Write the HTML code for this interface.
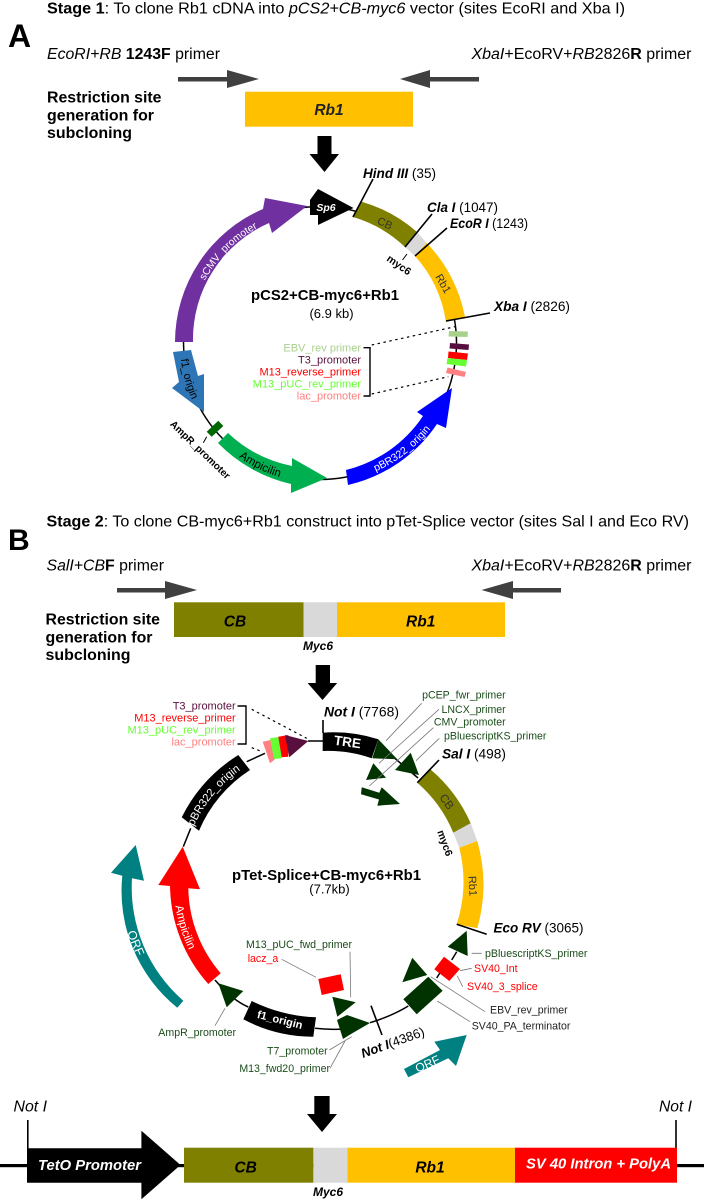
<!DOCTYPE html>
<html><head><meta charset="utf-8"><style>
html,body{margin:0;padding:0;background:#fff}
svg{display:block}
text{font-family:"Liberation Sans",sans-serif}
.bi{font-weight:bold;font-style:italic}
.b{font-weight:bold}
.i{font-style:italic}
.lb{font-size:10.6px}
.lc{font-size:11px}
.g{fill:#1a4d1a}
.r{fill:#f00}
.ld{stroke:#777;stroke-width:.8;fill:none}
.rg{stroke:#000;stroke-width:1.5;fill:none}
.tk{stroke:#000;stroke-width:1.6;fill:none}
</style></head><body>
<svg width="704" height="1200" viewBox="0 0 704 1200" xmlns="http://www.w3.org/2000/svg">
<defs>
<path id="a1" d="M189,343 A131,131 0 0 1 320,212"/>
<path id="a2" d="M320,483 A140,140 0 0 0 460,343"/>
<path id="a3" d="M180,343 A140,140 0 0 0 320,483"/>
<path id="b1" d="M181,885 A141,141 0 0 1 322,744"/>
<path id="b2" d="M174,885 A148,148 0 0 0 322,1033"/>
</defs>
<rect width="704" height="1200" fill="#fff"/>

<!-- Header A -->
<text x="47" y="13.5" font-size="16" textLength="578" lengthAdjust="spacingAndGlyphs"><tspan class="b">Stage 1</tspan>: To clone Rb1 cDNA into <tspan class="i">pCS2+CB-myc6</tspan> vector (sites EcoRI and Xba I)</text>
<text x="8" y="47" font-size="32" class="b">A</text>
<text x="47" y="59" font-size="15.5" textLength="173" lengthAdjust="spacingAndGlyphs"><tspan class="i">EcoRI+RB</tspan> <tspan class="b">1243F</tspan> primer</text>
<text x="471.5" y="59" font-size="15.5" textLength="220" lengthAdjust="spacingAndGlyphs"><tspan class="i">XbaI</tspan>+EcoRV+<tspan class="i">RB</tspan>2826<tspan class="b">R</tspan> primer</text>
<polygon points="178,77 227,77 227,70 259,79 227,88 227,81.5 178,81.5" fill="#404040"/>
<polygon points="479,77 430,77 430,70 400,79 430,88 430,81.5 479,81.5" fill="#404040"/>
<rect x="245" y="91.7" width="168" height="35" fill="#ffc000"/>
<text x="329" y="115" font-size="15.5" class="bi" text-anchor="middle" fill="#222">Rb1</text>
<g font-size="16" class="b">
<text x="47" y="102.5" textLength="114.5" lengthAdjust="spacingAndGlyphs">Restriction site</text>
<text x="47" y="120.5" textLength="107" lengthAdjust="spacingAndGlyphs">generation for</text>
<text x="47" y="138" textLength="85" lengthAdjust="spacingAndGlyphs">subcloning</text>
</g>
<polygon points="317.5,136 331.5,136 331.5,154 339,154 324.5,172 309.5,154 317.5,154"/>

<!-- Plasmid A -->
<circle cx="320" cy="343" r="136.5" class="rg"/>
<path d="M175,342 A145,145 0 0 1 263,209 L265,198 L307,206 L272,233 L269,223 A127,127 0 0 0 193,342 Z" fill="#7030a0"/>
<text font-size="10.4" fill="#fff"><textPath href="#a1" startOffset="50%" text-anchor="middle">sCMV_promoter</textPath></text>
<polygon points="310,200 318,189 353.5,208 318,225 318,215 310,215"/>
<text x="326" y="211" font-size="10.5" class="bi" fill="#fff" text-anchor="middle">Sp6</text>
<path d="M361.7,201.7 A146,146 0 0 1 416.7,231.7 L405,247 A128,128 0 0 0 353,217 Z" fill="#808000"/>
<text x="385" y="227" font-size="11" text-anchor="middle" fill="#333" transform="rotate(25 385 223)">CB</text>
<polygon points="416.7,231.7 426.7,243 415,256 405,247" fill="#d9d9d9"/>
<path d="M426.7,243 A145,145 0 0 1 465,317 L446,322 A127,127 0 0 0 415,256 Z" fill="#ffc000"/>
<text x="443.5" y="287.5" font-size="11" text-anchor="middle" fill="#333" transform="rotate(60 443.5 283.5)">Rb1</text>
<path d="M353,217 L373,179 M405,247 L432,214 M415,256 L447,228 M446,321 L490,313" class="tk"/>
<path d="M407,254 L402.5,260" stroke="#000" stroke-width="1"/>
<text x="399" y="268.5" font-size="10.5" class="b" text-anchor="middle" transform="rotate(35 399 265)">myc6</text>
<text x="363" y="178" font-size="13.5" textLength="73" lengthAdjust="spacingAndGlyphs"><tspan class="bi">Hind III</tspan> (35)</text>
<text x="427" y="212" font-size="13.5" textLength="71" lengthAdjust="spacingAndGlyphs"><tspan class="bi">Cla I</tspan> (1047)</text>
<text x="450" y="228" font-size="13.5" textLength="78" lengthAdjust="spacingAndGlyphs"><tspan class="bi">EcoR I</tspan> (1243)</text>
<text x="494" y="311" font-size="13.5" textLength="76" lengthAdjust="spacingAndGlyphs"><tspan class="bi">Xba I</tspan> (2826)</text>
<polygon points="449,331 468,331.5 467.5,337 448.5,336.5" fill="#a9d18e"/>
<polygon points="450,343 469,344.5 468.5,350 449.5,348.5" fill="#580f3d"/>
<polygon points="448.5,351.5 468,353.5 467,360 448,358" fill="#f00"/>
<polygon points="447.5,358 467,360 466,366.5 446.5,364" fill="#66ff33"/>
<polygon points="447.5,367.5 466,372 464.5,377 446,373" fill="#ff8080"/>
<path d="M371.7,345 L455,326.7 M371.7,394 L448.3,376.7" stroke="#000" stroke-width="1.2" stroke-dasharray="2.5 3.5" fill="none"/>
<path d="M363.5,347.7 H370 V396 H363.5" stroke="#000" stroke-width="1.4" fill="none"/>
<g class="lc" text-anchor="end">
<text x="361" y="351.7" fill="#a9d18e">EBV_rev primer</text>
<text x="361" y="363.7" fill="#580f3d">T3_promoter</text>
<text x="361" y="375.7" fill="#f00">M13_reverse_primer</text>
<text x="361" y="387.7" fill="#66ff33">M13_pUC_rev_primer</text>
<text x="361" y="399.7" fill="#ff8080">lac_promoter</text>
</g>
<text x="325" y="300" font-size="14.8" class="b" text-anchor="middle" textLength="148" lengthAdjust="spacingAndGlyphs">pCS2+CB-myc6+Rb1</text>
<text x="331.5" y="318" font-size="13" text-anchor="middle">(6.9 kb)</text>
<polygon points="173,352 191,350 198,376 204,374 204,412 172,388 179,382" fill="#2e75b6"/>
<text font-size="11"><textPath href="#a3" startOffset="17%" text-anchor="middle">f1_origin</textPath></text>
<polygon points="206.7,431.7 218.3,420.7 223.3,426 211.7,436.7" fill="#006600"/>
<path d="M206.7,436.7 L203.3,442.7" stroke="#000" stroke-width="1"/>
<text x="200" y="453" font-size="10" class="b" text-anchor="middle" transform="rotate(44 200 450)">AmpR_promoter</text>
<path d="M218,443 L228,433 A130,130 0 0 0 292,466 L292,458 L327,478 L291,493 L291,484 A148,148 0 0 1 218,443 Z" fill="#00b050"/>
<text font-size="11.4"><textPath href="#a3" startOffset="71%" text-anchor="middle">Ampicilin</textPath></text>
<path d="M346,470 A130,130 0 0 0 423,416 L417,412 L452,388 L446,428 L437,424 A147,147 0 0 1 348,485 Z" fill="#00f"/>
<text font-size="10.6" fill="#fff"><textPath href="#a2" startOffset="42%" text-anchor="middle">pBR322_origin</textPath></text>

<!-- Header B -->
<text x="46.5" y="526.5" font-size="16" textLength="642.5" lengthAdjust="spacingAndGlyphs"><tspan class="b">Stage 2</tspan>: To clone CB-myc6+Rb1 construct into pTet-Splice vector (sites Sal I and Eco RV)</text>
<text x="8" y="550" font-size="30" class="b">B</text>
<text x="46.5" y="570.5" font-size="15.5" textLength="117.5" lengthAdjust="spacingAndGlyphs"><tspan class="i">SalI+CB</tspan><tspan class="b">F</tspan> primer</text>
<text x="471.5" y="570.5" font-size="15.5" textLength="220" lengthAdjust="spacingAndGlyphs"><tspan class="i">XbaI</tspan>+EcoRV+<tspan class="i">RB</tspan>2826<tspan class="b">R</tspan> primer</text>
<polygon points="117,588 165,588 165,581 197,590 165,599 165,592.5 117,592.5" fill="#404040"/>
<polygon points="561,588 513,588 513,581 481.5,590 513,599 513,592.5 561,592.5" fill="#404040"/>
<rect x="174" y="602.3" width="129.5" height="34.7" fill="#808000"/>
<rect x="303.5" y="602.3" width="33.5" height="34.7" fill="#d9d9d9"/>
<rect x="337" y="602.3" width="168" height="34.7" fill="#ffc000"/>
<text x="235" y="626.5" font-size="15.5" class="bi" text-anchor="middle">CB</text>
<text x="420.7" y="626.5" font-size="15.5" class="bi" text-anchor="middle">Rb1</text>
<text x="318" y="650" font-size="12" class="bi" text-anchor="middle">Myc6</text>
<g font-size="16" class="b">
<text x="45.5" y="624.3" textLength="114.5" lengthAdjust="spacingAndGlyphs">Restriction site</text>
<text x="45.5" y="642.3" textLength="107" lengthAdjust="spacingAndGlyphs">generation for</text>
<text x="45.5" y="660" textLength="85" lengthAdjust="spacingAndGlyphs">subcloning</text>
</g>
<polygon points="315.7,665 330,665 330,683 337.2,683 322.5,700 307.6,683 315.7,683"/>

<!-- Plasmid B -->
<path d="M323,741 L308,741 M265,753.3 L246.7,761.7 M190.7,828.3 L183.3,846.7 M215,980 Q232,1000 248.3,1007 M315,1028.3 Q330,1030 345,1029 M370,1022.7 Q392,1016 408.3,1006 M436.7,978 L441.7,970 M451.7,960 L456.7,951.7 M385,750 L418,778" class="rg"/>
<path d="M323,720 V733" class="tk"/>
<path d="M322.7,732.7 A148,148 0 0 1 378.3,739.3 L371.7,758.3 A130,130 0 0 0 322.7,751 Z"/>
<text x="347.5" y="746.5" font-size="13.5" class="b" fill="#fff" text-anchor="middle" transform="rotate(8 347.5 742)">TRE</text>
<g fill="#003300">
<polygon points="378.3,739.3 397.3,759.3 372.3,758.3"/>
<polygon points="373.3,763.3 386,777.7 366,780"/>
<polygon points="361.7,787.3 379.3,792.7 381.7,787.3 400,804 377.3,805.7 379,799.5 361,794.3"/>
<polygon points="410.7,752.7 419,775 395,770"/>
<polygon points="466.7,930.7 467.7,956 447.7,946.7"/>
<polygon points="412.3,957.7 427.3,975 402.3,982.3"/>
<polygon points="428.3,976.7 442.7,990.7 416.7,1014.3 403.3,999.3"/>
<polygon points="337,1020 347,1015 370,1023 351,1034 343,1039"/>
<polygon points="332.3,996.7 355.7,1002.3 337.3,1016.7"/>
<polygon points="218.3,983.3 243.3,991 226.7,1007.3"/>
</g>
<path d="M430,769 A150,150 0 0 1 470.7,823.3 L453.3,832.7 A134,134 0 0 0 417.3,782.7 Z" fill="#808000"/>
<text x="446.7" y="805.5" font-size="11.5" text-anchor="middle" fill="#333" transform="rotate(55 446.7 801.7)">CB</text>
<polygon points="470.7,823.3 477.3,841 459.3,847.7 453.3,832.7" fill="#d9d9d9"/>
<path d="M477.3,841 A160,160 0 0 1 477.3,928.3 L456.7,924.3 A140,140 0 0 0 459.3,847.7 Z" fill="#ffc000"/>
<text x="473" y="890" font-size="11" text-anchor="middle" fill="#333" transform="rotate(87 473 886)">Rb1</text>
<text x="445" y="846.5" font-size="10.5" class="b" text-anchor="middle" transform="rotate(70 445 843)">myc6</text>
<path d="M417.3,782.7 L439,760 M456.7,924.3 L486.7,934.3 M371,1005.7 L382,1035" class="tk"/>
<path d="M238.3,755 L250,770 A135,135 0 0 0 199,830.7 L181.7,817.3 A155,155 0 0 1 238.3,755 Z"/>
<text font-size="11.2" fill="#fff"><textPath href="#b1" startOffset="44%" text-anchor="middle">pBR322_origin</textPath></text>
<polygon points="262.7,741.7 270.7,740 275,759.3 270,763.3" fill="#ff8080"/>
<polygon points="270,738.3 280,736.7 281.7,758.3 274,759" fill="#66ff33"/>
<polygon points="278.3,736.7 288.3,735 288.3,756.7 281.7,757.3" fill="#f00"/>
<polygon points="285,735 308.3,741 289.3,757.3" fill="#580f3d"/>
<path d="M251.7,709.3 L306.7,738.3 M251.7,747.7 L263,752" stroke="#000" stroke-width="1.2" stroke-dasharray="2.5 3.5" fill="none"/>
<path d="M237.5,706 H246 V744 H237.5" stroke="#000" stroke-width="1.4" fill="none"/>
<g class="lc" text-anchor="end">
<text x="235.7" y="709.7" fill="#580f3d">T3_promoter</text>
<text x="235.7" y="721.7" fill="#f00">M13_reverse_primer</text>
<text x="235.7" y="733.7" fill="#66ff33">M13_pUC_rev_primer</text>
<text x="235.7" y="745.7" fill="#ff8080">lac_promoter</text>
</g>
<text x="324" y="716.5" font-size="13.5" textLength="75" lengthAdjust="spacingAndGlyphs"><tspan class="bi">Not I</tspan>  (7768)</text>
<text x="442" y="758.5" font-size="13.5" textLength="64" lengthAdjust="spacingAndGlyphs"><tspan class="bi">Sal I</tspan> (498)</text>
<text x="493.5" y="932.5" font-size="13.5" textLength="90" lengthAdjust="spacingAndGlyphs"><tspan class="bi">Eco RV</tspan> (3065)</text>
<g class="lb g">
<text x="505.7" y="698.7" text-anchor="end">pCEP_fwr_primer</text>
<text x="505.7" y="713" text-anchor="end">LNCX_primer</text>
<text x="505.7" y="725.7" text-anchor="end">CMV_promoter</text>
<text x="444" y="739.7">pBluescriptKS_primer</text>
<text x="246" y="948">M13_pUC_fwd_primer</text>
<text x="158.3" y="1036.2">AmpR_promoter</text>
<text x="327.7" y="1054.5" text-anchor="end">T7_promoter</text>
<text x="330" y="1072" text-anchor="end">M13_fwd20_primer</text>
<text x="485" y="957">pBluescriptKS_primer</text>
</g>
<path d="M421.7,703.3 L386,740.7 M439,709.3 L379,763.3 M433.3,727.7 L369.3,786 M439.3,738.3 L416,760.7 M281.7,959.3 L316,977.3 M350,951.7 L350.7,997.3 M225,1008.3 L215,1025.7 M329.3,1050 L351.7,1036.7 M330,1068.3 L345,1041 M471.7,953.3 L481.7,953.3 M460,970.7 L471.7,968.3 M457.3,976 L462.7,986.7 M430.7,976.7 L485,1011.7 M437.3,1001 L470,1021.7" class="ld"/>
<text x="326.5" y="880" font-size="14.8" class="b" text-anchor="middle" textLength="189" lengthAdjust="spacingAndGlyphs">pTet-Splice+CB-myc6+Rb1</text>
<text x="329.5" y="893.5" font-size="13" text-anchor="middle">(7.7kb)</text>
<path d="M135.7,845 L144,880.7 L132,878.3 A150,150 0 0 0 183.3,1000.7 L177.3,1007.7 A150,150 0 0 1 122.3,875.7 L111,872.7 Z" fill="#008080"/>
<text x="136" y="947.5" font-size="12.4" fill="#fff" text-anchor="middle" transform="rotate(68 136 943)">ORF</text>
<path d="M182.7,846.7 L200,889.3 L188.3,888.3 A134,134 0 0 0 220.7,973.3 L208.3,984 A151,151 0 0 1 170,886 L158.3,885 Z" fill="#f00"/>
<text font-size="11.6" fill="#fff"><textPath href="#b2" startOffset="19%" text-anchor="middle">Ampicilin</textPath></text>
<path d="M251.7,1001 A160,160 0 0 0 316,1017.3 L313.3,1036.7 A150,150 0 0 1 243.3,1019.3 Z"/>
<text x="280" y="1023.5" font-size="11" class="b" fill="#fff" text-anchor="middle" transform="rotate(14 280 1019.5)">f1_origin</text>
<polygon points="318.3,979 340.7,974.3 344,990 321.7,995" fill="#f00"/>
<polygon points="444,956.7 460,969 449.3,981 434.3,969.3" fill="#f00"/>
<text x="247.7" y="962" class="lb r">lacz_a</text>
<text x="474" y="972" class="lb r">SV40_Int</text>
<text x="467" y="990" class="lb r">SV40_3_splice</text>
<text x="490" y="1013.5" class="lb" fill="#222">EBV_rev_primer</text>
<text x="471.7" y="1029.5" class="lb" fill="#222">SV40_PA_terminator</text>
<text x="363" y="1058" font-size="13" transform="rotate(-20 363 1058)"><tspan class="bi">Not I</tspan>(4386)</text>
<polygon points="404,1069 408.3,1077.3 448.3,1058.3 456,1066 466.7,1035 434.3,1041.7 440,1050" fill="#008080"/>
<text x="427.5" y="1068" font-size="12" fill="#fff" text-anchor="middle" transform="rotate(-24 427.5 1064)">ORF</text>

<!-- Bottom -->
<polygon points="314.3,1096 329.6,1096 329.6,1114 337,1114 322,1132 307,1114 314.3,1114"/>
<text x="13.5" y="1111.5" font-size="15.5" class="i" textLength="33.5" lengthAdjust="spacingAndGlyphs">Not I</text>
<text x="659" y="1111.5" font-size="15.5" class="i" textLength="33" lengthAdjust="spacingAndGlyphs">Not I</text>
<rect x="0" y="1164" width="704" height="3.2"/>
<rect x="27" y="1120" width="1.6" height="30"/>
<rect x="675.2" y="1120" width="1.6" height="30"/>
<polygon points="27,1148.3 141.4,1148.3 141.4,1130.7 180.5,1165 141.4,1199.3 141.4,1182.7 27,1182.7"/>
<rect x="184" y="1147.7" width="129.4" height="35" fill="#808000"/>
<rect x="313.4" y="1147.7" width="34.1" height="35" fill="#d9d9d9"/>
<rect x="347.5" y="1147.7" width="167.5" height="35" fill="#ffc000"/>
<rect x="515" y="1147.7" width="162" height="35" fill="#f00"/>
<text x="38" y="1170" font-size="15" class="bi" fill="#fff" textLength="103" lengthAdjust="spacingAndGlyphs">TetO Promoter</text>
<text x="245.6" y="1172.3" font-size="15.5" class="bi" text-anchor="middle">CB</text>
<text x="430" y="1172.3" font-size="15.5" class="bi" text-anchor="middle">Rb1</text>
<text x="526" y="1168.7" font-size="15" class="bi" fill="#fff" textLength="145" lengthAdjust="spacingAndGlyphs">SV 40 Intron + PolyA</text>
<text x="328" y="1196" font-size="12" class="bi" text-anchor="middle">Myc6</text>
</svg>
</body></html>
